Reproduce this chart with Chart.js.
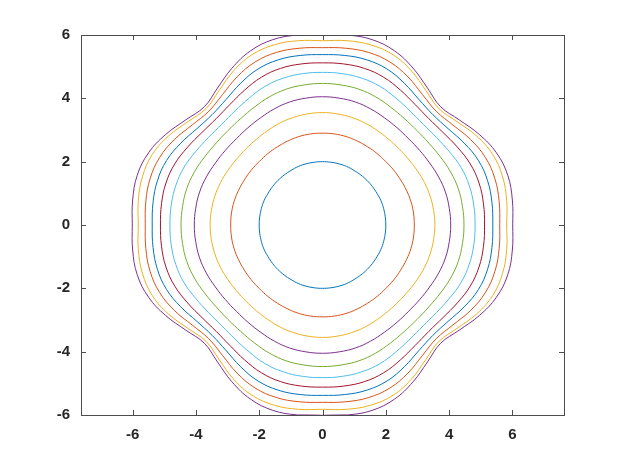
<!DOCTYPE html>
<html lang="en">
<head>
    <meta charset="UTF-8">
    <title>Contour lines</title>
    <script src="https://cdn.jsdelivr.net/npm/chart.js"></script>
    <style>
        body {
            margin: 0;
            background: #fff;
        }
        #wrap {
            width: 623px;
            height: 467px;
        }
    </style>
</head>
<body>
    <div id="wrap">
        <canvas id="contourChart" width="623" height="467"></canvas>
    </div>

    <script>
        // radius of each contour line at these angles (degrees from the x axis).
        // the picture is symmetric about both axes and both diagonals, so one octant is enough.
        const octantAngles = [0, 7.5, 15, 22.5, 30, 37.5, 45];
        const levelRadii = [
            [2.00, 2.00, 2.00, 2.00, 1.99, 1.99, 1.99],
            [2.90, 2.90, 2.89, 2.87, 2.85, 2.84, 2.83],
            [3.55, 3.54, 3.52, 3.49, 3.45, 3.42, 3.41],
            [4.05, 4.04, 4.02, 3.97, 3.91, 3.87, 3.85],
            [4.47, 4.46, 4.44, 4.38, 4.30, 4.24, 4.22],
            [4.82, 4.82, 4.80, 4.74, 4.63, 4.54, 4.50],
            [5.12, 5.13, 5.12, 5.05, 4.92, 4.80, 4.75],
            [5.38, 5.40, 5.40, 5.33, 5.17, 5.00, 4.93],
            [5.60, 5.63, 5.64, 5.57, 5.40, 5.19, 5.08],
            [5.82, 5.87, 5.89, 5.82, 5.62, 5.36, 5.20],
            [6.01, 6.05, 6.06, 5.95, 5.72, 5.45, 5.28]
        ];
        const lineColors = ['#0072BD', '#D95319', '#EDB120', '#7E2F8E', '#77AC30', '#4DBEEE',
                            '#A2142F', '#0072BD', '#D95319', '#EDB120', '#7E2F8E'];
        const xTicks = [-6, -4, -2, 0, 2, 4, 6];
        const yTicks = [-6, -4, -2, 0, 2, 4, 6];

        // unfold one octant into a full closed loop; one extra point on each end
        // gives the spline the right tangent at the join, those end segments are hidden
        function loopPoints(radii) {
            const step = octantAngles[1];
            const pts = [];
            for (let k = -1; k <= 360 / step + 1; k++) {
                const deg = k * step;
                let a = ((deg % 90) + 90) % 90;
                if (a > 45) a = 90 - a;
                const r = radii[Math.round(a / step)];
                const t = deg * Math.PI / 180;
                pts.push({ x: r * Math.cos(t), y: r * Math.sin(t) });
            }
            return pts;
        }

        const datasets = levelRadii.map((radii, i) => {
            const pts = loopPoints(radii);
            const last = pts.length - 1;
            return {
                data: pts,
                borderColor: lineColors[i],
                borderWidth: 1,
                showLine: true,
                pointRadius: 0,
                tension: 0.4,
                fill: false,
                segment: {
                    borderColor: c => (c.p0DataIndex === 0 || c.p1DataIndex === last) ? 'rgba(0,0,0,0)' : undefined
                }
            };
        });

        // box around the axes with ticks pointing inwards, like the original
        const frameTicks = {
            id: 'frameTicks',
            afterDraw(chart) {
                const ctx = chart.ctx;
                const a = chart.chartArea;
                const xs = chart.scales.x;
                const ys = chart.scales.y;
                const len = 5;
                ctx.save();
                ctx.strokeStyle = '#4d4d4d';
                ctx.lineWidth = 1;
                ctx.strokeRect(Math.round(a.left) + 0.5, Math.round(a.top) + 0.5,
                               Math.round(a.right - a.left), Math.round(a.bottom - a.top));
                ctx.beginPath();
                xTicks.forEach(v => {
                    const px = Math.round(xs.getPixelForValue(v)) + 0.5;
                    ctx.moveTo(px, a.bottom);
                    ctx.lineTo(px, a.bottom - len);
                    ctx.moveTo(px, a.top);
                    ctx.lineTo(px, a.top + len);
                });
                yTicks.forEach(v => {
                    const py = Math.round(ys.getPixelForValue(v)) + 0.5;
                    ctx.moveTo(a.left, py);
                    ctx.lineTo(a.left + len, py);
                    ctx.moveTo(a.right, py);
                    ctx.lineTo(a.right - len, py);
                });
                ctx.stroke();
                ctx.restore();
            }
        };

        const ctx = document.getElementById('contourChart').getContext('2d');
        new Chart(ctx, {
            type: 'scatter',
            data: { datasets: datasets },
            plugins: [frameTicks],
            options: {
                responsive: false,
                animation: false,
                devicePixelRatio: 1,
                layout: {
                    padding: { left: 0, right: 59, top: 35, bottom: 0 }
                },
                scales: {
                    x: {
                        type: 'linear',
                        min: -7.63,
                        max: 7.63,
                        afterBuildTicks: s => { s.ticks = xTicks.map(v => ({ value: v })); },
                        afterFit: s => { s.height = 52; },
                        grid: { display: false, drawTicks: false },
                        border: { display: false },
                        ticks: {
                            padding: 11,
                            color: '#262626',
                            font: { family: 'Liberation Sans, Arial, sans-serif', size: 15, weight: 'bold' }
                        }
                    },
                    y: {
                        type: 'linear',
                        min: -6,
                        max: 6,
                        afterBuildTicks: s => { s.ticks = yTicks.map(v => ({ value: v })); },
                        afterFit: s => { s.width = 81; },
                        grid: { display: false, drawTicks: false },
                        border: { display: false },
                        ticks: {
                            padding: 11,
                            color: '#262626',
                            font: { family: 'Liberation Sans, Arial, sans-serif', size: 15, weight: 'bold' }
                        }
                    }
                },
                plugins: {
                    legend: { display: false },
                    tooltip: { enabled: false }
                }
            }
        });
    </script>
</body>
</html>
